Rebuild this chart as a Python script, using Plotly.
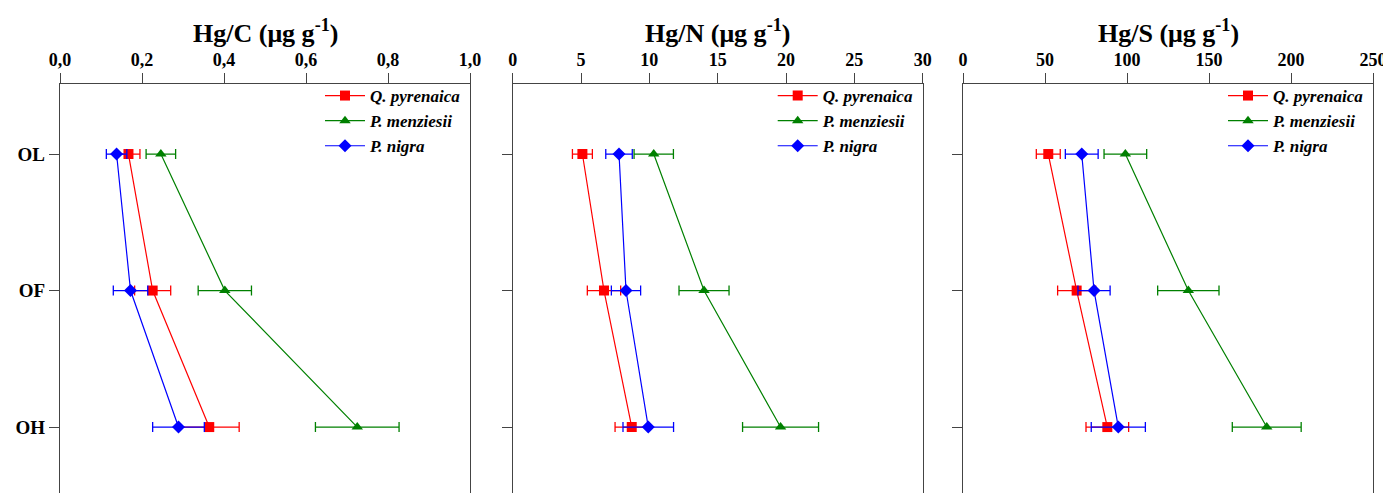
import plotly.graph_objects as go

horizons = ["OL", "OF", "OH"]
species = ["Q. pyrenaica", "P. menziesii", "P. nigra"]
colors = ["#ff0000", "#008000", "#0000ff"]
symbols = ["square", "triangle-up", "diamond"]

# Hg/C (µg g-1)
hgc_q = [0.167, 0.226, 0.364]
hgc_q_err = [0.028, 0.044, 0.073]
hgc_m = [0.246, 0.402, 0.725]
hgc_m_err = [0.036, 0.065, 0.102]
hgc_n = [0.138, 0.172, 0.289]
hgc_n_err = [0.025, 0.042, 0.063]

# Hg/N (µg g-1)
hgn_q = [5.10, 6.68, 8.71]
hgn_q_err = [0.73, 1.22, 1.22]
hgn_m = [10.32, 14.0, 19.6]
hgn_m_err = [1.44, 1.83, 2.78]
hgn_n = [7.78, 8.29, 9.92]
hgn_n_err = [0.97, 1.07, 1.85]

# Hg/S (µg g-1)
hgs_q = [52.0, 69.3, 88.0]
hgs_q_err = [7.3, 11.6, 13.0]
hgs_m = [99.0, 137.4, 185.2]
hgs_m_err = [13.0, 18.7, 21.0]
hgs_n = [72.4, 79.9, 94.7]
hgs_n_err = [10.0, 9.8, 16.5]

panels = [
    ("Hg/C (μg g<sup>-1</sup>)", [0, 1.0], [0, 0.2, 0.4, 0.6, 0.8, 1.0],
     ["0,0", "0,2", "0,4", "0,6", "0,8", "1,0"],
     [(hgc_q, hgc_q_err), (hgc_m, hgc_m_err), (hgc_n, hgc_n_err)]),
    ("Hg/N (μg g<sup>-1</sup>)", [0, 30], [0, 5, 10, 15, 20, 25, 30],
     ["0", "5", "10", "15", "20", "25", "30"],
     [(hgn_q, hgn_q_err), (hgn_m, hgn_m_err), (hgn_n, hgn_n_err)]),
    ("Hg/S (μg g<sup>-1</sup>)", [0, 250], [0, 50, 100, 150, 200, 250],
     ["0", "50", "100", "150", "200", "250"],
     [(hgs_q, hgs_q_err), (hgs_m, hgs_m_err), (hgs_n, hgs_n_err)]),
]

OFF = 8  # page body margin
W, H = 1391 - OFF, 493 - OFF
TOP = 84 - OFF
PH = H - TOP
x_starts = [60 - OFF, 512.7 - OFF, 963 - OFF]
pw = 410
FONT = "Liberation Serif, DejaVu Serif, serif"

fig = go.Figure()
layout = dict(
    width=W, height=H,
    margin=dict(l=0, r=0, t=TOP, b=0, autoexpand=False),
    paper_bgcolor="white", plot_bgcolor="white",
    font=dict(family=FONT, color="black"),
    showlegend=True,
    annotations=[],
)

for i, (title, xr, tv, tt, series) in enumerate(panels):
    n = "" if i == 0 else str(i + 1)
    xa = "x" + n
    ya = "y" + n
    lg = "legend" + n
    for j, (vals, errs) in enumerate(series):
        fig.add_trace(go.Scatter(
            x=vals, y=horizons, xaxis=xa, yaxis=ya,
            mode="lines+markers", name="<b><i>" + species[j] + "</i></b>", legend=lg,
            line=dict(color=colors[j], width=1.2),
            marker=dict(symbol=symbols[j], size=10, color=colors[j]),
            error_x=dict(type="data", array=errs, color=colors[j],
                         thickness=1.3, width=5),
        ))
    x0 = x_starts[i] / W
    x1 = (x_starts[i] + pw) / W
    layout["xaxis" + n] = dict(
        domain=[x0, x1], anchor=ya, side="top", range=xr, automargin=False,
        tickvals=tv, ticktext=tt, showgrid=False, zeroline=False,
        showline=True, linecolor="#444", linewidth=1.3,
        ticks="outside", ticklen=10, tickcolor="#444", tickwidth=1.3,
        tickfont=dict(family=FONT, size=18, color="black", weight="bold"),
    )
    layout["yaxis" + n] = dict(
        domain=[0, 1], anchor=xa, type="category", automargin=False,
        categoryorder="array", categoryarray=horizons,
        range=[2.483, -0.513], showgrid=False, zeroline=False,
        showline=True, mirror=True, linecolor="#444", linewidth=1.3,
        ticks="outside", ticklen=10, tickcolor="#444", tickwidth=1.3,
        tickfont=dict(family=FONT, size=19, color="black", weight="bold"),
        showticklabels=(i == 0),
    )
    layout[lg] = dict(
        x=x1 - 4 / W, y=1 + 6 / PH, xanchor="right", yanchor="top",
        bgcolor="rgba(0,0,0,0)", borderwidth=0,
        font=dict(family=FONT, size=17, color="black"),
        tracegroupgap=0, itemwidth=40,
    )
    layout["annotations"].append(dict(
        text="<b>" + title + "</b>", x=(x0 + x1) / 2, y=1 + (TOP - (31 - OFF)) / PH,
        xref="paper", yref="paper", xanchor="center", yanchor="middle",
        showarrow=False, font=dict(family=FONT, size=26, color="black"),
    ))

fig.update_layout(**layout)
fig.write_html("out.html")
